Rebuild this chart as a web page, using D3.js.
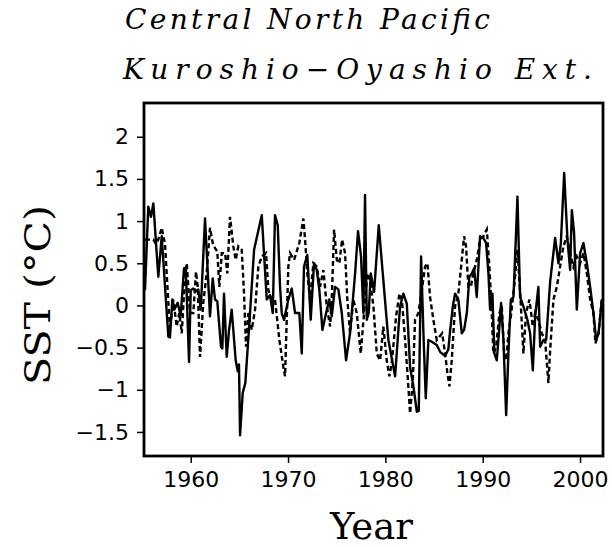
<!doctype html>
<html lang="en">
  <head>
    <meta charset="utf-8">
    <title>Central North Pacific SST</title>
    <script src="https://d3js.org/d3.v7.min.js"></script>
    <style>
      body { margin: 0; background: #fff; }
      .tick text { font-family: "DejaVu Sans", sans-serif; font-size: 22px; fill: #000; }
      .tick line { stroke: #000; stroke-width: 1.5; }
    </style>
  </head>
  <body>
    <script>

      // series (year, SST anomaly in deg C)
      var solidYears = [1955.30,1955.64,1955.92,1956.16,1956.67,1957.02,1957.70,1957.87,1958.11,1958.31,1958.66,1958.97,1959.31,1959.49,1959.83,1960.00,1960.27,1960.54,1960.78,1961.03,1961.47,1961.98,1962.26,1962.50,1962.73,1963.11,1963.25,1963.42,1963.70,1963.94,1964.21,1964.62,1964.83,1964.96,1965.07,1965.34,1965.61,1966.09,1966.51,1967.30,1967.81,1968.15,1968.43,1968.66,1968.94,1969.18,1969.35,1969.59,1970.03,1970.38,1970.72,1971.16,1971.41,1971.64,1971.98,1972.33,1972.67,1972.95,1973.22,1973.53,1973.91,1974.24,1974.49,1974.83,1975.17,1975.52,1975.96,1976.37,1976.89,1977.19,1977.50,1977.74,1977.91,1978.09,1978.29,1978.50,1978.84,1979.32,1979.79,1980.31,1981.00,1981.51,1981.85,1982.20,1982.54,1982.88,1983.23,1983.43,1983.67,1983.91,1984.15,1984.42,1984.77,1985.28,1985.62,1986.14,1986.47,1986.65,1986.93,1987.16,1987.50,1987.85,1988.09,1988.37,1988.63,1988.88,1989.12,1989.39,1989.73,1990.07,1990.35,1990.59,1990.76,1991.00,1991.20,1991.45,1991.69,1991.89,1992.13,1992.41,1992.64,1992.89,1993.16,1993.33,1993.57,1993.84,1994.18,1994.59,1994.87,1995.15,1995.39,1995.72,1995.90,1996.24,1996.52,1996.93,1997.44,1997.78,1998.03,1998.37,1998.71,1998.98,1999.16,1999.39,1999.67,2000.01,2000.35,2000.70,2001.04,2001.38,2001.66,2001.90,2002.24];
      var solidValues = [0.18,1.17,1.05,1.21,0.34,0.82,-0.37,-0.38,0.07,-0.05,0.03,-0.12,0.44,0.45,-0.67,0.18,0.20,0.17,0.19,-0.05,1.03,-0.13,0.32,0.07,0.05,-0.49,-0.51,0.14,-0.61,-0.29,-0.05,-0.65,-0.78,-0.70,-1.54,-1.04,-0.92,-0.10,0.66,1.07,0.07,0.12,-0.09,1.07,0.95,0.22,-0.09,-0.17,0.07,0.20,-0.09,-0.09,-0.57,0.46,0.60,-0.17,0.50,0.42,0.18,-0.29,-0.09,0.07,-0.13,0.22,0.19,-0.09,-0.65,-0.33,0.38,0.88,0.58,-0.09,1.31,-0.17,-0.09,0.38,0.16,0.95,0.30,-0.41,-0.84,-0.01,0.14,0.02,-0.73,-0.96,-1.26,-1.25,0.58,-0.33,-1.10,-0.41,-0.43,-0.47,-0.55,-0.60,-0.52,-0.30,-0.01,0.14,0.07,-0.33,-0.29,-0.09,0.34,0.38,0.44,0.10,0.82,0.80,0.74,0.38,-0.05,0.14,-0.57,-0.65,-0.29,0.03,-0.41,-1.30,-0.57,0.07,0.10,0.58,1.29,0.10,-0.01,-0.17,-0.33,-0.77,-0.13,0.22,-0.49,-0.41,-0.41,0.28,0.80,0.50,0.74,1.57,0.78,0.42,1.13,0.86,-0.05,0.62,0.74,0.50,0.22,-0.09,-0.41,-0.33,0.07];

      var dashedYears = [1955.30,1956.16,1956.43,1956.67,1957.02,1957.36,1957.53,1957.87,1958.21,1958.56,1958.83,1959.08,1959.31,1959.59,1959.93,1960.27,1960.54,1960.72,1960.96,1961.29,1961.64,1961.98,1962.26,1962.50,1962.73,1962.94,1963.19,1963.53,1963.76,1964.04,1964.38,1964.62,1964.89,1965.24,1965.48,1965.68,1965.92,1966.27,1966.61,1966.95,1967.30,1967.74,1967.98,1968.32,1968.66,1969.11,1969.52,1969.69,1970.03,1970.21,1970.62,1971.16,1971.57,1971.75,1971.98,1972.26,1972.60,1972.95,1973.29,1973.63,1973.98,1974.32,1974.49,1974.73,1975.01,1975.27,1975.55,1975.86,1976.09,1976.37,1976.71,1977.06,1977.47,1977.81,1978.15,1978.43,1978.77,1979.12,1979.46,1979.79,1980.14,1980.41,1980.66,1981.10,1981.44,1981.69,1982.03,1982.36,1982.54,1982.82,1983.05,1983.39,1983.74,1984.08,1984.32,1984.59,1984.93,1985.28,1985.55,1985.83,1986.14,1986.37,1986.58,1986.82,1987.16,1987.50,1987.85,1988.09,1988.29,1988.53,1988.78,1989.04,1989.39,1989.73,1990.07,1990.42,1990.69,1990.93,1991.10,1991.38,1991.72,1991.96,1992.20,1992.41,1992.64,1992.89,1993.23,1993.57,1993.84,1994.18,1994.46,1994.80,1995.15,1995.39,1995.72,1996.07,1996.41,1996.75,1996.93,1997.27,1997.62,1997.95,1998.29,1998.64,1998.98,1999.32,1999.67,2000.01,2000.35,2000.70,2001.04,2001.38,2001.58,2001.90,2002.24];
      var dashedValues = [0.78,0.78,0.73,0.78,0.92,0.73,0.38,-0.29,0.07,-0.25,-0.09,-0.33,0.14,0.50,-0.09,-0.09,0.40,0.22,-0.61,0.03,0.38,0.92,0.74,0.68,0.64,0.22,0.62,0.62,0.38,1.05,0.70,0.54,0.70,0.66,0.14,-0.49,-0.09,-0.29,-0.05,0.46,0.58,0.62,0.18,0.07,0.07,-0.41,-0.73,-0.84,0.46,0.62,0.54,0.74,1.03,0.78,0.38,0.07,0.50,0.46,0.22,0.42,-0.01,-0.25,0.07,0.90,0.54,0.50,0.78,0.62,0.07,-0.33,0.07,-0.09,-0.57,-0.09,0.38,0.30,-0.01,-0.57,-0.65,-0.25,-0.65,-0.84,-0.68,-0.13,0.14,0.07,-0.41,-0.96,-1.28,-0.88,-0.17,-0.09,0.18,0.46,0.50,0.10,-0.17,-0.41,-0.37,-0.33,-0.57,-0.80,-0.96,-0.65,-0.01,0.14,0.54,0.82,0.70,0.22,0.22,0.38,0.54,0.78,0.82,0.90,0.46,-0.09,-0.57,-0.49,-0.09,-0.01,-0.57,-0.65,-0.33,-0.13,0.22,0.66,0.18,-0.57,-0.09,0.07,-0.25,-0.09,-0.17,-0.33,-0.41,-0.92,-0.53,0.07,0.22,0.46,0.70,0.82,0.62,0.46,0.58,0.50,0.62,0.38,0.07,-0.09,-0.45,-0.33,0.07];

      var yTicks = [-1.5, -1, -0.5, 0, 0.5, 1, 1.5, 2];
      var xTicks = [1960, 1970, 1980, 1990, 2000];
      var titleLines = ["Central North Pacific", "Kuroshio\u2212Oyashio Ext."];

      var margin = {top: 103, right: 9, bottom: 91, left: 144},
          width = 612 - margin.left - margin.right,
          height = 547 - margin.top - margin.bottom;

      var svg = d3.select("body").append("svg")
          .attr("width", 612)
          .attr("height", 547);

      var g = svg.append("g")
          .attr("transform", "translate(" + margin.left + "," + margin.top + ")");

      var x = d3.scaleLinear().domain([1955.2, 2002.36]).range([0, width]);
      var y = d3.scaleLinear().domain([-1.785, 2.40]).range([height, 0]);

      g.append("clipPath").attr("id", "clip")
        .append("rect").attr("width", width).attr("height", height);

      var line = d3.line()
          .x(function(d){ return x(d[0]); })
          .y(function(d){ return y(d[1]); });

      var dashed = d3.zip(dashedYears, dashedValues);
      var solid = d3.zip(solidYears, solidValues);

      var plot = g.append("g").attr("clip-path", "url(#clip)");

      plot.append("path")
          .datum(dashed)
          .attr("fill", "none")
          .attr("stroke", "#000")
          .attr("stroke-width", 2.4)
          .attr("stroke-dasharray", "5,3")
          .attr("d", line);

      plot.append("path")
          .datum(solid)
          .attr("fill", "none")
          .attr("stroke", "#000")
          .attr("stroke-width", 2.4)
          .attr("stroke-linejoin", "round")
          .attr("d", line);

      // axes
      var xAxis = g.append("g")
          .attr("transform", "translate(0," + height + ")")
          .call(d3.axisBottom(x).tickValues(xTicks).tickFormat(d3.format("d")).tickSize(7).tickPadding(8));
      xAxis.select(".domain").remove();

      var yAxis = g.append("g")
          .call(d3.axisLeft(y).tickValues(yTicks).tickFormat(d3.format("~g")).tickSize(7).tickPadding(8));
      yAxis.select(".domain").remove();

      // frame
      g.append("rect")
          .attr("width", width)
          .attr("height", height)
          .attr("fill", "none")
          .attr("stroke", "#000")
          .attr("stroke-width", 2.8);

      // titles
      svg.selectAll(".title")
          .data(titleLines)
        .enter().append("text")
          .attr("class", "title")
          .attr("x", function(d, i){ return i ? 123 : 125; })
          .attr("y", function(d, i){ return i ? 79 : 29; })
          .attr("textLength", function(d, i){ return i ? 469 : 365; })
          .attr("lengthAdjust", "spacing")
          .style("font-family", "'DejaVu Serif', serif")
          .style("font-style", "italic")
          .style("font-size", "28px")
          .text(String);

      svg.append("text")
          .attr("x", margin.left + width / 2 - 2)
          .attr("y", 539)
          .attr("text-anchor", "middle")
          .style("font-family", "'DejaVu Serif', serif")
          .style("font-size", "37px")
          .text("Year");

      svg.append("text")
          .attr("transform", "translate(50,295) rotate(-90)")
          .attr("text-anchor", "middle")
          .attr("textLength", 180)
          .attr("lengthAdjust", "spacingAndGlyphs")
          .style("font-family", "'DejaVu Serif', serif")
          .style("font-size", "36px")
          .text("SST (\u00b0C)");

    </script>
  </body>
</html>
